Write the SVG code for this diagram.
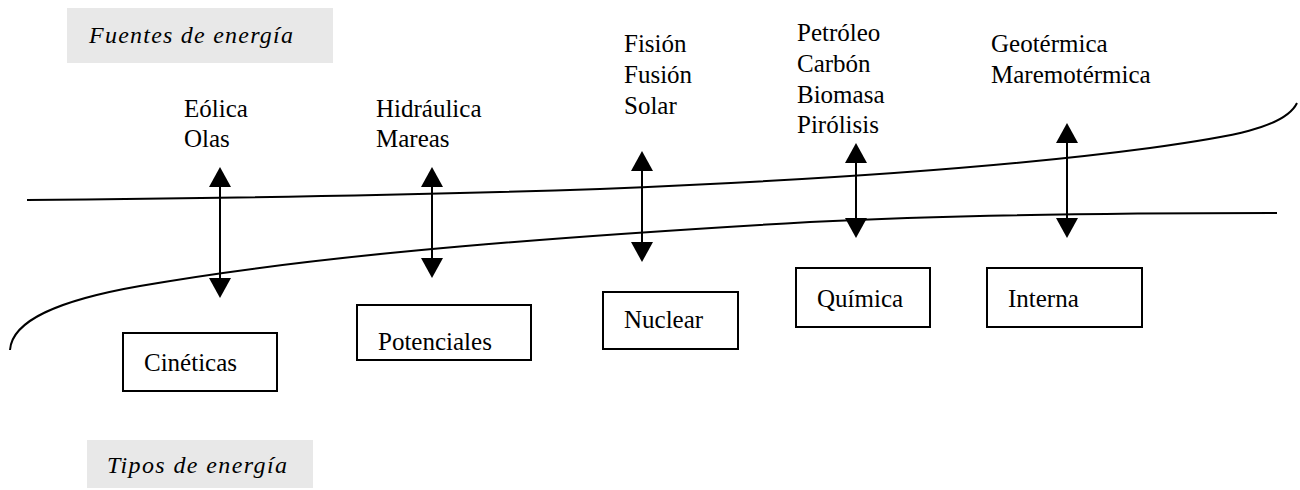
<svg xmlns="http://www.w3.org/2000/svg" width="1300" height="490" viewBox="0 0 1300 490">
<style>
  text { font-family: "Liberation Serif", "Times New Roman", serif; font-size: 25px; fill: #000; }
  .hdr { font-style: italic; font-size: 24px; }
  .hbox { fill: #e8e8e8; stroke: none; }
  .box { fill: #fff; stroke: #000; stroke-width: 2; }
  .curve { fill: none; stroke: #000; stroke-width: 2; }
  .arr { stroke: #000; stroke-width: 2; marker-start: url(#head); marker-end: url(#head); }
</style>
<defs>
  <marker id="head" markerUnits="userSpaceOnUse" viewBox="0 0 20 22" markerWidth="20" markerHeight="22" refX="10" refY="11" orient="auto-start-reverse">
    <path d="M0,0 L20,11 L0,22 z" fill="#000"/>
  </marker>
</defs>
<rect width="1300" height="490" fill="#fff"/>

<g id="header-fuentes">
  <rect class="hbox" x="67" y="8" width="266" height="55"/>
  <text class="hdr" x="89" y="43" textLength="204" lengthAdjust="spacing">Fuentes de energía</text>
</g>
<g id="header-tipos">
  <rect class="hbox" x="87" y="440" width="226" height="48"/>
  <text class="hdr" x="107" y="473" textLength="180" lengthAdjust="spacing">Tipos de energía</text>
</g>

<g id="curves">
  <path class="curve" d="M27,200 C250,198 450,194 600,189 C800,181 1000,168 1150,148 C1230,137 1285,128 1297,103"/>
  <path class="curve" d="M10,350 C12,320 60,300 140,286 C300,258 500,240 810,222 C950,215 1100,213 1277,213"/>
</g>

<g id="connectors">
  <line class="arr" x1="220" y1="177" x2="220" y2="288"/>
  <line class="arr" x1="432" y1="177" x2="432" y2="268"/>
  <line class="arr" x1="642" y1="161" x2="642" y2="252"/>
  <line class="arr" x1="856" y1="153" x2="856" y2="228"/>
  <line class="arr" x1="1067" y1="133" x2="1067" y2="228"/>
</g>

<g id="src-cineticas">
  <text x="184" y="117">Eólica</text>
  <text x="184" y="147">Olas</text>
</g>
<g id="src-potenciales">
  <text x="376" y="117">Hidráulica</text>
  <text x="376" y="147">Mareas</text>
</g>
<g id="src-nuclear">
  <text x="624" y="52">Fisión</text>
  <text x="624" y="83">Fusión</text>
  <text x="624" y="114">Solar</text>
</g>
<g id="src-quimica">
  <text x="797" y="41">Petróleo</text>
  <text x="797" y="72">Carbón</text>
  <text x="797" y="103">Biomasa</text>
  <text x="797" y="133">Pirólisis</text>
</g>
<g id="src-interna">
  <text x="991" y="52">Geotérmica</text>
  <text x="991" y="83">Maremotérmica</text>
</g>

<g id="node-cineticas">
  <rect class="box" x="123" y="333" width="154" height="58"/>
  <text x="144" y="371">Cinéticas</text>
</g>
<g id="node-potenciales">
  <rect class="box" x="357" y="305" width="174" height="55"/>
  <text x="378" y="350">Potenciales</text>
</g>
<g id="node-nuclear">
  <rect class="box" x="603" y="292" width="135" height="57"/>
  <text x="624" y="328">Nuclear</text>
</g>
<g id="node-quimica">
  <rect class="box" x="796" y="268" width="134" height="59"/>
  <text x="817" y="307">Química</text>
</g>
<g id="node-interna">
  <rect class="box" x="987" y="268" width="155" height="59"/>
  <text x="1008" y="307">Interna</text>
</g>
</svg>
